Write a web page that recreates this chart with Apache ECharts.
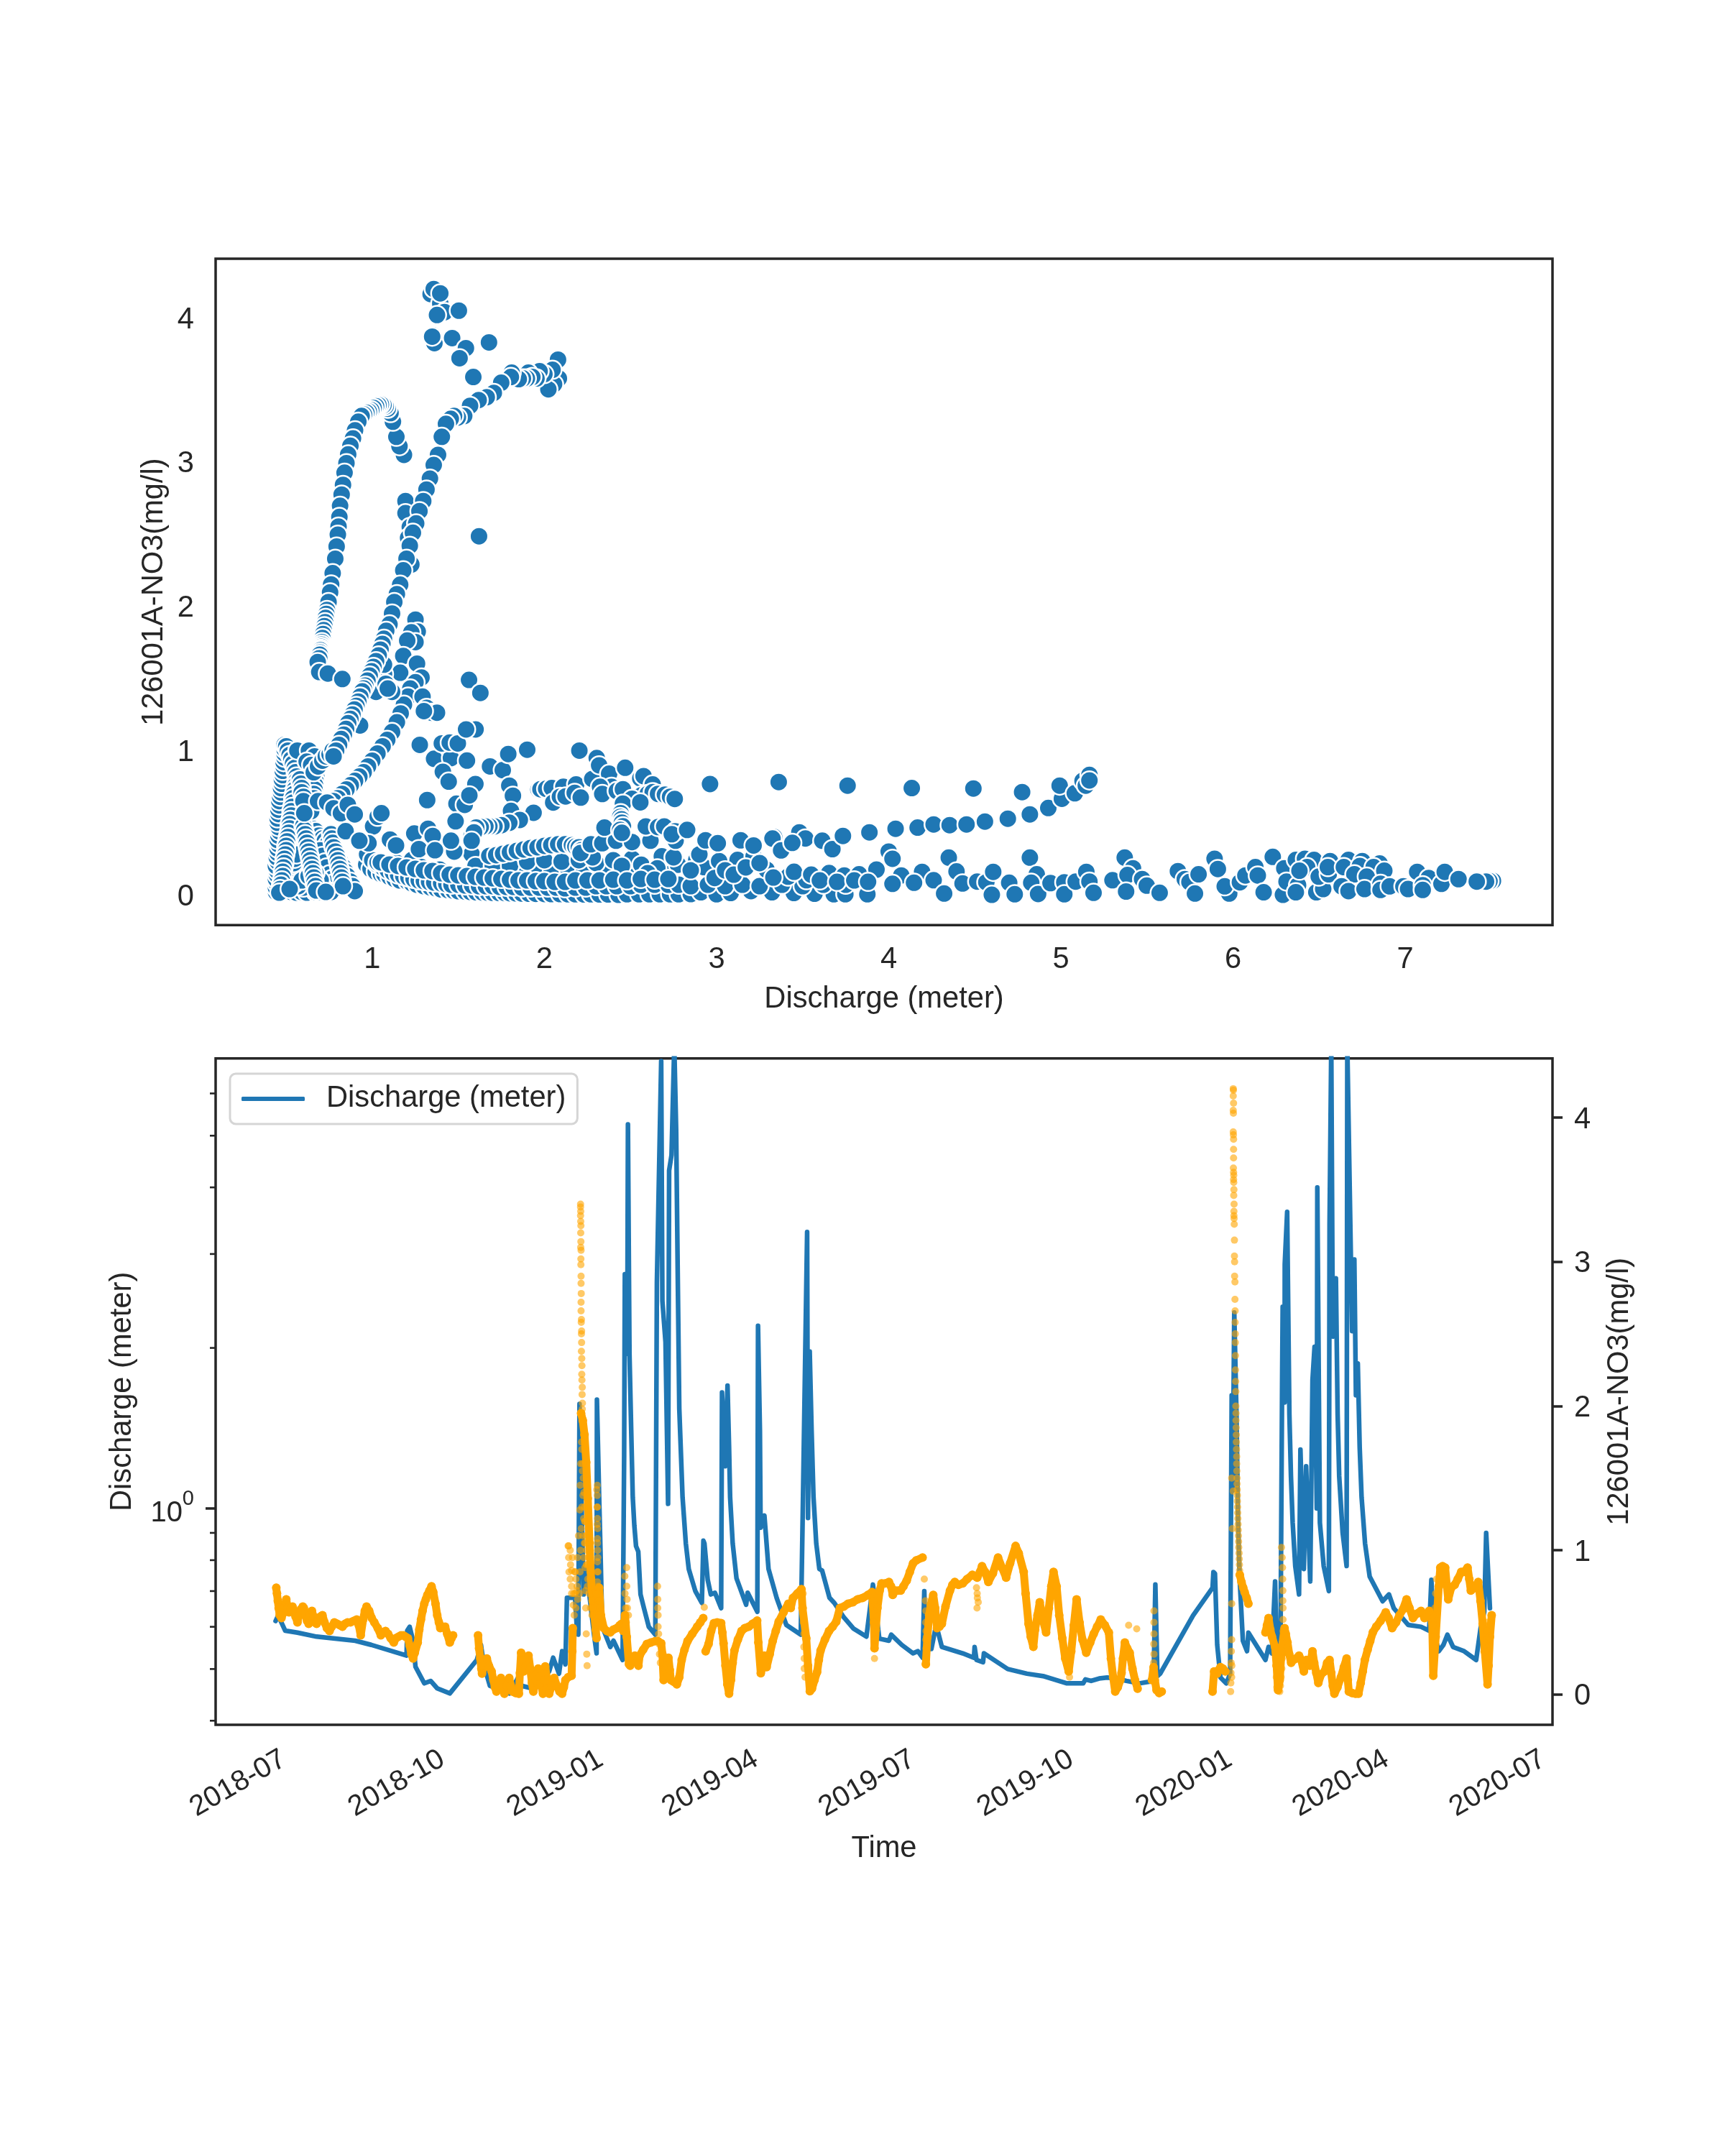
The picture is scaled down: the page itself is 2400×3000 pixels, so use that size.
<!DOCTYPE html>
<html><head><meta charset="utf-8">
<script src="https://cdn.jsdelivr.net/npm/echarts@6/dist/echarts.min.js"></script>
<style>html,body{margin:0;padding:0;background:#fff}#c{width:2400px;height:3000px}</style></head>
<body><div id="c"></div>
<script>
// ---------- top panel: scatter points (x = discharge, y = NO3) ----------
const topCluster=[[1.364,4.2],[1.339,4.165],[1.395,4.1],[1.42,4.04],[1.503,4.05],[1.357,4.2],[1.395,4.17],[1.376,4.02],[1.361,3.825],[1.352,3.88],[1.348,3.87],[1.464,3.86],[1.544,3.79],[1.507,3.72],[1.678,3.83],[1.587,3.59],[1.62,2.486]];
const upperChain=[[1.184,3.05],[1.158,3.11],[1.14,3.175],[1.12,3.28],[1.106,3.34],[1.09,3.37],[1.078,3.387],[1.065,3.395],[1.05,3.4],[1.036,3.395],[1.022,3.387],[1.008,3.375],[.994,3.36],[.98,3.35],[.966,3.342],[.952,3.33],[.938,3.32],[.919,3.28],[.9,3.22],[.888,3.164],[.873,3.113],[.86,3.053],[.85,2.993],[.839,2.926],[.83,2.842],[.822,2.775],[.813,2.697],[.809,2.62],[.804,2.553],[.8,2.497],[.793,2.415],[.785,2.33],[.77,2.23],[.761,2.152],[.755,2.097],[.746,2.03],[.737,1.975],[.733,1.948],[.729,1.92],[.726,1.89],[.722,1.863],[.718,1.835],[.714,1.808],[.711,1.78],[.707,1.752],[.705,1.735],[.703,1.72],[.701,1.706],[.699,1.696],[.697,1.68],[.695,1.665],[.692,1.64],[.683,1.614],[.692,1.545],[.742,1.534],[.826,1.496]];
const middleChain=[[1.193,2.73],[1.193,2.646],[1.218,2.55],[1.208,2.475],[1.227,2.29],[2.079,3.71],[2.084,3.58],[2.056,3.54],[2.023,3.505],[2.047,3.64],[2.0,3.61],[1.972,3.63],[1.954,3.58],[1.907,3.62],[1.93,3.59],[1.898,3.58],[1.875,3.58],[1.851,3.575],[1.81,3.62],[1.805,3.59],[1.749,3.55],[1.706,3.48],[1.665,3.45],[1.618,3.43],[1.568,3.39],[1.534,3.32],[1.497,3.31],[1.475,3.32],[1.456,3.3],[1.428,3.265],[1.404,3.175],[1.382,3.05],[1.357,2.98],[1.335,2.886],[1.315,2.81],[1.296,2.73],[1.274,2.66],[1.255,2.575],[1.236,2.51],[1.218,2.42],[1.199,2.33],[1.18,2.25],[1.162,2.15],[1.143,2.085],[1.128,2.03],[1.115,1.95],[1.1,1.875],[1.081,1.83],[1.068,1.775],[1.059,1.74],[1.048,1.7],[1.037,1.66],[1.022,1.62],[1.007,1.58],[.996,1.55],[.985,1.52],[.972,1.485],[.96,1.45],[.951,1.43],[.942,1.41],[.93,1.375],[.919,1.34],[.908,1.31],[.897,1.285],[.885,1.25],[.873,1.22],[.86,1.19],[.848,1.15],[.835,1.11],[.82,1.08],[.807,1.04],[.79,1.0],[.775,.96]];
const lowerBranch=[[1.251,1.908],[1.264,1.825],[1.227,1.82],[1.251,1.752],[1.203,1.763],[1.18,1.656],[1.26,1.603],[1.162,1.54],[1.068,1.53],[1.286,1.507],[1.251,1.474],[1.221,1.43],[1.208,1.374],[1.184,1.318],[1.165,1.258],[1.143,1.196],[1.115,1.129],[1.087,1.074],[1.06,1.03],[1.03,.98],[1.0,.93],[.975,.89],[.95,.85],[.925,.82],[.9,.79],[.875,.76],[.85,.73],[.825,.7],[.8,.67],[.775,.65],[1.022,1.407],[1.078,1.463],[1.115,1.407],[1.09,1.43],[1.068,1.596],[1.292,1.374],[1.316,1.296],[1.344,1.263],[1.376,1.263],[1.3,1.274],[1.562,1.49],[1.628,1.4],[1.544,1.14],[1.596,1.147],[.929,1.174],[1.274,1.03],[1.404,1.05],[1.45,1.055],[1.497,1.05],[1.6,1.147],[1.545,1.147],[1.276,1.04]];
const midScatter=[[1.404,1.05],[1.497,1.044],[1.359,.943],[1.457,.948],[1.55,.931],[1.41,.853],[1.444,.785],[1.599,.768],[1.684,.89],[1.758,.865],[1.79,.976],[1.9,1.006],[2.203,1.0],[1.796,.757],[1.817,.687],[1.319,.657],[1.489,.632],[1.537,.624],[1.564,.69],[1.484,.51],[1.806,.582],[1.937,.569],[1.857,.519],[1.796,.5],[1.75,.483],[1.71,.474],[1.68,.474],[1.657,.474],[1.63,.47],[1.604,.466],[1.59,.44],[1.577,.41],[1.965,.73],[1.977,.732],[2.01,.735],[2.043,.74],[2.11,.749],[2.184,.765],[2.051,.64],[2.09,.68],[2.123,.682],[2.176,.707],[2.211,.674],[2.278,.803],[2.304,.948],[2.318,.898],[2.376,.84],[2.39,.749],[2.469,.881],[2.323,.749],[2.336,.699],[2.42,.72],[2.456,.732],[2.557,.807],[2.576,.823],[2.629,.765],[2.563,.69],[2.6,.7],[2.629,.712],[2.66,.7],[2.7,.694],[2.73,.68],[2.757,.665],[2.509,.666],[2.456,.632],[2.557,.641],[2.443,.566],[2.44,.54],[2.448,.524],[2.45,.5],[2.456,.475],[2.44,.45],[2.45,.43],[2.962,.768],[3.361,.782],[3.761,.757],[4.134,.74],[4.492,.737],[4.775,.712],[3.888,.433],[4.04,.458],[4.168,.466],[4.261,.488],[4.354,.483],[4.452,.488],[4.559,.508],[4.692,.528],[4.82,.558],[4.927,.602],[5.006,.666],[4.993,.757],[5.081,.704],[5.126,.79],[5.145,.757],[5.166,.832],[5.166,.793]];
const leftColumnA=[[.44,.02],[.44,.05],[.445,.08],[.44,.11],[.445,.14],[.445,.17],[.44,.2],[.45,.23],[.445,.26],[.45,.29],[.45,.32],[.455,.35],[.45,.38],[.455,.41],[.46,.44],[.455,.47],[.45,.5],[.45,.53],[.455,.56],[.455,.59],[.46,.62],[.46,.65],[.465,.68],[.47,.71],[.47,.74],[.475,.77],[.475,.8],[.48,.83],[.48,.86],[.485,.89],[.485,.92],[.49,.95],[.49,.98],[.49,1.01],[.49,1.04]];
const leftColumnB=[[.5,1.03],[.51,1.0],[.52,.97],[.53,.94],[.54,.91],[.55,.88],[.555,.85],[.56,.82],[.56,.79],[.555,.76],[.55,.73],[.545,.7],[.54,.67],[.54,.64],[.535,.61],[.53,.58],[.53,.55],[.525,.52],[.52,.49],[.52,.46],[.515,.43],[.51,.4],[.505,.37],[.5,.34],[.5,.31],[.495,.28],[.49,.25],[.49,.22],[.485,.19],[.48,.16],[.48,.13],[.475,.1],[.47,.07],[.465,.04],[.46,.015]];
const leftClusterDots=[[.565,1.0],[.632,1.0],[.665,.96],[.619,.923],[.645,.9],[.66,.85],[.685,.89],[.71,.93],[.73,.96],[.752,.973],[.77,1.0],[.685,.649],[.738,.64],[.775,.6],[.818,.566],[.858,.624],[.898,.558],[1.005,.474],[1.031,.541],[1.053,.566],[.978,.358],[.845,.441],[.925,.375],[1.103,.383],[1.138,.342],[1.244,.425],[1.324,.458],[1.351,.408],[1.271,.317],[1.364,.309],[1.476,.3],[1.457,.375],[1.591,.433],[1.577,.375],[.605,.566],[.52,.04],[.73,.02]];
const decayLimbs=[[.57,.6],[.585,.57],[.6,.54],[.619,.508],[.635,.48],[.652,.46],[.672,.441],[.69,.41],[.71,.39],[.725,.375],[.74,.35],[.765,.325],[.78,.295],[.805,.258],[.815,.23],[.832,.192],[.845,.16],[.855,.13],[.872,.092],[.885,.06],[.898,.026],[.56,.45],[.575,.42],[.59,.39],[.605,.36],[.62,.335],[.64,.31],[.66,.31],[.698,.308],[.71,.27],[.725,.225],[.735,.19],[.752,.142],[.765,.11],[.775,.08],[.56,.32],[.57,.28],[.58,.24],[.59,.2],[.6,.165],[.61,.13],[.62,.1],[.63,.07],[.64,.04],[.65,.02],[.5,.02],[.51,.045],[.52,.07],[.525,.1],[.53,.13],[.535,.16],[.54,.19],[.545,.22],[.55,.25],[.56,.28],[.48,.02],[.53,.02],[.56,.015],[.59,.02],[.62,.015],[.67,.02],[.7,.02],[.72,.03],[.74,.025],[.76,.02],[.68,.05],[.71,.06],[.6,.05],[.57,.06],[.55,.08],[.59,.1],[.66,.09],[.7,.1],[.63,.13],[.67,.15],[.58,.55],[.62,.58]];
const leftRipples=[[.6,.48],[.605,.45],[.61,.42],[.615,.39],[.62,.36],[.625,.33],[.63,.3],[.635,.27],[.64,.24],[.645,.21],[.65,.18],[.655,.15],[.66,.12],[.665,.09],[.67,.06],[.675,.03],[.76,.42],[.765,.39],[.77,.36],[.775,.33],[.785,.3],[.795,.27],[.8,.24],[.805,.21],[.81,.18],[.815,.15],[.82,.12],[.825,.09],[.83,.06],[.68,.85],[.675,.82],[.67,.79],[.668,.76],[.665,.73],[.66,.7],[.66,.67],[.655,.64],[.65,.61],[.645,.58],[.58,.8],[.585,.77],[.59,.74],[.59,.71],[.6,.68],[.6,.65]];
const rowBottom=[[.965,.209],[.99,.18],[1.02,.16],[1.05,.145],[1.071,.142],[1.1,.125],[1.13,.11],[1.16,.1],[1.204,.092],[1.23,.08],[1.26,.07],[1.3,.06],[1.338,.051],[1.37,.045],[1.4,.038],[1.44,.033],[1.471,.029],[1.5,.025],[1.54,.022],[1.57,.02],[1.604,.018],[1.64,.016],[1.67,.015],[1.7,.014],[1.737,.013],[1.77,.012],[1.8,.011],[1.835,.01],[1.87,.009],[1.91,.008],[1.95,.007],[2.0,.006],[2.04,.005],[2.09,.005],[2.137,.004],[2.18,.004],[2.23,.003],[2.27,.004],[2.32,.003],[2.37,.003],[2.43,0],[2.48,.004],[2.55,.004],[2.61,.004],[2.67,.004],[2.73,.004],[2.78,.004],[2.85,.005],[2.909,.018],[3.0,.004],[3.082,.013],[3.2,.026],[3.322,.018],[3.449,.013],[3.569,.008],[3.681,.004],[3.748,.004],[3.876,.004]];
const rowDecayA=[[.97,.28],[1.0,.24],[1.03,.21],[1.06,.19],[1.09,.17],[1.12,.155],[1.15,.14],[1.18,.13],[1.21,.12],[1.24,.11],[1.27,.1],[1.3,.095],[1.33,.09],[1.36,.085],[1.4,.08],[1.43,.075],[1.46,.07],[1.5,.07],[1.54,.065],[1.58,.065],[1.62,.06],[1.66,.06],[1.7,.06],[1.74,.055],[1.78,.055],[1.82,.055],[1.87,.05],[1.92,.05],[1.97,.05],[2.02,.05],[2.07,.05],[2.12,.045],[2.18,.05],[2.24,.05],[2.3,.06],[2.36,.06],[2.42,.06],[2.5,.06],[2.56,.07],[2.64,.07],[2.72,.07],[2.78,.07],[2.85,.06],[2.95,.07],[3.05,.06],[3.15,.07],[3.25,.06],[3.38,.07],[3.5,.06],[3.62,.07],[3.75,.07]];
const rowDecayB=[[1.05,.225],[1.1,.21],[1.15,.2],[1.2,.19],[1.25,.18],[1.3,.17],[1.35,.165],[1.4,.15],[1.45,.14],[1.5,.135],[1.55,.13],[1.6,.125],[1.65,.12],[1.7,.115],[1.75,.11],[1.8,.105],[1.85,.1],[1.9,.1],[1.95,.095],[2.0,.095],[2.06,.09],[2.12,.09],[2.18,.1],[2.25,.1],[2.32,.1],[2.4,.105],[2.48,.1],[2.56,.11],[2.64,.105],[2.72,.11]];
const rowUpper=[[1.68,.27],[1.72,.275],[1.76,.285],[1.8,.295],[1.84,.305],[1.88,.315],[1.92,.325],[1.96,.33],[2.0,.34],[2.04,.345],[2.08,.35],[2.12,.35],[2.16,.345],[2.18,.335],[2.2,.33],[2.215,.31],[2.21,.29],[2.27,.35],[2.336,.358],[2.416,.375],[2.509,.366],[2.616,.375],[2.762,.375],[2.349,.466],[2.589,.474],[2.66,.47],[2.696,.474],[2.76,.44],[2.74,.42],[2.829,.45],[2.936,.378],[3.007,.358],[3.14,.378],[3.215,.342],[3.335,.4],[3.325,.39],[3.375,.308],[3.481,.433],[3.516,.391],[3.44,.36],[3.614,.375],[3.673,.317],[3.734,.408]];
const rowMiddle=[[1.031,.225],[1.138,.225],[1.231,.242],[1.284,.192],[1.391,.175],[1.577,.283],[1.67,.234],[1.737,.175],[1.844,.167],[1.958,.192],[2.043,.159],[2.137,.184],[2.23,.159],[2.363,.159],[2.496,.159],[2.509,.25],[2.563,.209],[2.682,.267],[2.722,.142],[2.656,.184],[2.776,.209],[2.882,.242],[2.927,.192],[3.015,.234],[2.989,.117],[3.122,.242],[3.215,.267],[3.29,.175],[3.415,.126],[3.522,.101],[3.654,.151],[3.742,.134],[3.828,.142],[3.929,.175],[4.0,.3],[4.022,.25],[4.073,.134],[4.022,.076],[4.147,.084],[2.3,.22],[2.4,.24],[2.45,.2],[2.6,.15],[2.75,.26],[2.85,.17],[2.9,.28],[3.05,.17],[3.1,.14],[3.17,.19],[3.25,.22],[3.33,.12],[3.45,.16],[3.55,.14],[3.6,.1],[3.7,.09],[3.8,.1],[3.88,.09],[1.6,.2],[1.7,.2],[1.8,.2],[1.9,.23],[2.0,.24],[2.1,.23],[2.2,.24],[2.28,.26]];
const rightLowBand=[[3.994,.3],[3.928,.175],[4.074,.134],[3.88,.004],[4.154,.081],[4.194,.159],[4.261,.101],[4.349,.258],[4.394,.162],[4.429,.079],[4.322,.009],[4.514,.092],[4.567,.087],[4.607,.159],[4.599,0],[4.7,.084],[4.732,.004],[4.82,.258],[4.86,.142],[4.828,.084],[4.868,.006],[4.94,.081],[5.02,.087],[5.02,.004],[5.086,.092],[5.148,.159],[5.166,.092],[5.19,.014],[5.3,.101],[5.371,.258],[5.419,.184],[5.387,.137],[5.379,.023],[5.472,.109],[5.499,.064],[5.574,.014],[5.68,.164],[5.72,.109],[5.747,.089],[5.8,.142],[5.779,.009],[5.893,.25],[5.912,.179],[5.978,.009],[5.952,.059],[6.04,.087],[6.072,.134],[6.13,.192],[6.144,.134],[6.178,.018],[6.231,.263],[6.29,0],[6.298,.184],[6.365,.242],[6.418,.25],[6.471,.242],[6.564,.234],[6.671,.242],[6.751,.234],[6.852,.217],[6.311,.092],[6.378,.067],[6.365,.018],[6.431,.192],[6.386,.167],[6.484,.018],[6.524,.04],[6.498,.126],[6.556,.142],[6.551,.192],[6.644,.192],[6.737,.2],[6.817,.192],[6.705,.142],[6.777,.126],[6.879,.167],[6.631,.059],[6.671,.026],[6.764,.04],[6.857,.076],[6.857,.034],[6.91,.059],[6.99,.059],[7.017,.04],[7.07,.159],[7.137,.117],[7.102,.067],[7.102,.034],[7.211,.076],[7.23,.159],[7.31,.109],[7.51,.097],[7.49,.095],[7.47,.092],[7.416,.092]];

// ---------- bottom panel: blue line, [days since 2018-07-01, discharge] ----------
const timeOrigin='2018-07-01T00:00:00Z';
const dischargeA=[[-4.8,.615],[-3.3,.63],[.8,.59],[7.9,.585],[19,.575],[41.4,.565],[50.7,.555],[71.2,.53],[71.6,.59],[73,.6],[75,.565],[76.4,.505],[81.5,.47],[85.2,.475],[89,.46],[96.3,.45],[112,.52],[114.4,.555],[116,.51],[119.6,.465],[131,.45],[136.4,.485],[138,.465],[144,.46],[149.4,.478],[154,.495],[156.3,.525],[159.7,.49],[161.5,.54],[163.4,.51],[164.3,.68],[169,.68],[170,.6],[170.9,.58],[171.6,1.57],[172.7,1.05],[174,.69],[175.5,.77],[178,.66],[180,.58],[181.5,.535],[181.7,1.6],[182.3,1.32],[183,1.05],[183.9,.8],[184.8,.6],[189.5,.55],[191.3,.565],[196.6,.52],[197.5,1.26],[197.9,2.75],[199.3,1.95],[199.7,5.25],[200.6,1.95],[201.6,1.4],[202.5,1.05],[203.4,.93],[204.4,.85],[205.7,.83],[207,.69],[209,.65],[211.8,.6],[215.6,.58],[216.5,2.65],[219,6.9],[219.7,2.45],[221.5,2.05],[223,1.02],[223.6,4.3],[225,4.6],[226.6,7.4],[227.7,5.1],[228.6,2.75],[229.5,1.54],[231.4,1.05],[233.3,.86],[235,.77],[238.8,.7],[242.6,.665]];
const dischargeB=[[243.5,.87],[244.1,.86],[246,.735],[247.8,.69],[250.2,.695],[253.8,.65],[254.3,1.65],[256.2,1.2],[257.5,1.7],[258.4,1.3],[259,1.05],[260.5,.86],[262.7,.74],[268.3,.66],[269.2,.695],[274.8,.64],[275.2,2.2],[276.3,1.4],[276.7,.92],[278.9,.97],[281.3,.77],[286,.68],[291.6,.605],[300,.58],[301.3,1.05],[303.7,3.3],[304.2,.96],[305.2,1.97],[306.3,1.4],[307.4,1.05],[309,.86],[310.8,.77],[312.4,.765],[316.7,.68],[319.5,.665],[325,.625],[330.7,.595],[338.1,.575],[341.9,.72],[345.6,.57],[351.2,.565],[352.5,.58],[358.6,.555],[365.2,.535],[368,.54],[370.7,.525],[371.7,.7],[372.6,.545],[375.8,.545],[378.6,.605],[381.9,.55],[394,.535],[400.5,.525],[400.9,.55],[402,.52],[405.8,.515],[406.3,.535],[420.1,.5],[431.3,.49],[440.6,.485],[454.5,.47],[463.9,.47],[465.2,.478],[468.5,.475],[473.2,.48],[477.8,.482],[483.4,.48],[489,.475],[496.5,.47],[504.8,.475],[505.8,.72],[507,.485],[508.6,.49]];
const dischargeC=[[527.7,.63],[539,.71],[539.5,.76],[540.4,.755],[541.7,.555],[543.6,.482],[547,.47],[549.2,.49],[550.1,1.63],[550.7,1.08],[551.6,2.33],[552.9,1.5],[553.8,.95],[554.8,.73],[556.6,.565],[559,.54],[559.8,.585],[569.7,.52],[571.5,.55],[573.4,.535],[575.3,.73],[576.2,.535],[578.4,.53],[579.4,1.78],[579.7,2.39],[580.8,1.58],[580.9,2.87],[582.3,3.6],[583.6,1.5],[584.5,1.15],[585.5,.94],[587,.78],[589.2,.69],[590,1.29],[592,.77],[593.3,1.2],[595.7,.73],[597,1.74],[598.2,2.01],[599.5,1.0],[599.8,4],[601.3,.94],[603.5,.78],[606.5,.7],[606.9,3.4],[607.9,7.4],[608.8,2.1],[610.6,2.7],[611.6,1.5],[612.5,1.15],[614.5,.9],[616.8,.78],[617.2,7.4],[620,2.15],[621.3,2.93],[622.2,1.63],[623.3,1.87],[624.4,1.3],[625.5,1.05],[627.5,.86],[630.2,.745],[637.7,.67],[641.4,.69],[644.2,.65],[647.9,.63],[652.5,.605],[660,.6],[664.7,.59],[666,.735],[667.5,.585],[670.3,.54],[673,.555],[675.3,.58],[678.6,.55],[685,.54],[692,.52],[694.5,.595],[696.7,.64],[697.8,.9],[700,.65]];

// ---------- bottom panel: orange NO3 trace, [days since 2018-07-01, mg/l] ----------
const nitrateA=[[-4.4,.74],[-4,.7],[-3.5,.65],[-3,.6],[-2.4,.55],[-1.4,.53],[-.6,.56],[.4,.6],[1.4,.66],[2.2,.6],[3,.57],[4,.6],[5,.61],[5.8,.58],[6.8,.54],[7.9,.5],[8.8,.55],[9.8,.59],[11,.61],[11.6,.6],[12.6,.55],[13.5,.51],[14.4,.49],[15.2,.55],[16.3,.58],[17.2,.54],[18,.5],[19,.49],[20,.52],[21.2,.54],[22.4,.55],[23.6,.5],[25,.46],[26.5,.44],[27.8,.47],[29.3,.5],[31,.49],[32.5,.48],[34,.47],[35.5,.49],[37,.5],[38.6,.5],[40.5,.51],[42.3,.52],[43.5,.48],[44.6,.41],[46,.52],[47,.58],[48,.61],[49.5,.58],[51,.53],[52.5,.5],[54.5,.46],[56.3,.41],[57.6,.43],[59,.44],[60.5,.42],[62,.39],[63.8,.36],[65,.39],[66.5,.4],[68,.41],[69.3,.41],[70.6,.4],[72,.39],[73,.34],[74,.28],[75,.25],[76,.29],[77.7,.36],[78.6,.45],[79.6,.52],[80.5,.58],[81.5,.63],[82.4,.66],[83.3,.69],[84.5,.72],[85.7,.75],[86.7,.71],[88,.63],[89,.55],[90,.5],[90.8,.46],[92.2,.47],[93.6,.47],[94.8,.42],[96.3,.36],[97.3,.39],[98.2,.41]];
const nitrateB=[[112.7,.41],[113.3,.32],[114,.25],[114.6,.18],[115,.145],[116,.2],[117.8,.25],[119,.2],[120.6,.16],[121.6,.1],[122.5,.05],[123.4,.02],[124.6,.08],[126,.115],[127,.05],[128,.005],[129.4,.06],[130.8,.115],[131.8,.06],[132.7,.02],[134.5,.01],[136.4,.005],[137,.15],[137.7,.29],[138.4,.22],[139.2,.16],[140.5,.2],[142,.27],[143,.18],[144,.08],[144.8,.02],[146,.1],[147.6,.18],[149,.08],[150.4,.005],[151,.1],[151.7,.195],[152.8,.1],[154,.005],[155.4,.06],[156.9,.115],[158.5,.06],[160,.02],[161.5,.005],[162.5,.05],[163.4,.1],[165,.12],[167,.13],[167.4,.3],[167.7,.46]];
const nitrateC=[[172.5,1.95],[173.5,1.9],[174.5,1.8],[175.5,1.61],[176.4,1.36],[177.4,1.05],[178.3,.8],[179.3,.65],[180.2,.55],[181,.45],[181.5,.39]];
const nitrateD=[[183,.74],[184,.55],[185.7,.46],[187.5,.44],[189.4,.43],[191.3,.45],[193.2,.46],[195,.48],[196,.49],[197,.44],[198,.55],[199,.4],[200.3,.21]];
const nitrateE=[[201,.2],[202.5,.25],[203.7,.27],[205.8,.2],[206.5,.27],[208.5,.31],[210.7,.35],[213,.36],[215.6,.37],[217,.37],[219,.355],[219.7,.28],[220.4,.1],[221.8,.17],[223.2,.255],[224,.17],[224.6,.1],[226,.09],[228.1,.07],[229.5,.12],[230.9,.24],[232.5,.31],[234.3,.37],[237,.42],[239.9,.47],[241.7,.5],[243.4,.53]];
const nitrateF=[[244.8,.3],[246.5,.35],[248,.44],[249.6,.495],[251.5,.5],[253.8,.495],[254.5,.43],[255.2,.355],[256.3,.2],[257.4,.07],[258.4,.006],[259.5,.1],[260.5,.22],[261.5,.305],[263.5,.38],[265.6,.44],[267.5,.46],[269.8,.47],[272,.49],[274.7,.513],[275.4,.36],[276.8,.147],[278,.2],[278.9,.27],[280.2,.19],[282,.28],[283.7,.37],[285.5,.44],[287.2,.505],[290,.57],[292.8,.63],[294.2,.6],[295.5,.67],[298,.7],[300.4,.73],[301,.6],[303.2,.39],[304.2,.2],[305.3,.023],[306.5,.04],[308,.1],[309.5,.156],[310.5,.24],[311.5,.305],[314,.38],[316.4,.44],[318.5,.47],[320.6,.505],[322.7,.6],[325,.61],[327.5,.63],[330.3,.64],[333,.66],[336,.67],[339,.69],[341.4,.71],[342.5,.5],[342.8,.32],[343.5,.45],[344.5,.6],[345.8,.72],[346.9,.77],[349,.77],[351.2,.78],[352.4,.75],[353.4,.69],[355,.72],[356.8,.72],[358,.72],[359.6,.75],[361.5,.79],[363.3,.85],[365.2,.91],[367,.93],[370.7,.95]];
const nitrateJ=[[372.6,.21],[373.5,.4],[374.5,.55],[375.5,.62],[376.9,.69],[378,.6],[379.1,.46],[380.5,.47],[381.9,.49],[384,.61],[386.6,.72],[388,.76],[389.4,.78],[391.5,.76],[394,.77],[396.5,.8],[399.6,.83],[402.4,.81],[404,.85],[405.2,.89],[407,.85],[408.9,.78],[411.5,.84],[414.5,.95],[416.8,.88],[419.2,.81],[421.5,.91],[424.7,1.03],[426.5,.98],[429.4,.85],[430.5,.7],[432.2,.49],[433.5,.4],[435,.33],[436,.45],[437.4,.55],[438.7,.64],[440.5,.52],[442.4,.43],[444,.6],[445.4,.75],[446.7,.85],[448.5,.75],[450,.55],[451.8,.39],[453.5,.25],[455.5,.16],[457,.3],[458.5,.48],[460.1,.66],[461.8,.5],[463.5,.38],[465.7,.29],[468,.36],[470,.42],[472,.47],[474.1,.52],[476.5,.48],[478.8,.43],[480,.25],[481.3,.12],[482.5,.02],[484,.05],[485.5,.1],[486.2,.15],[487,.25],[488.1,.36],[489.5,.32],[490.9,.29],[492.5,.18],[494,.1],[495.5,.04]];
const nitrateK=[[503.8,.1],[504.8,.19],[505.5,.1],[506.5,.03],[508,.01],[509.5,.02]];
const nitrateL=[[539,.02],[539.9,.16],[540.8,.15],[541.7,.145],[542.6,.17],[543.6,.19],[545,.18],[546.4,.16]];
const nitrateM=[[554.8,.83],[555.8,.78],[556.8,.74],[557.6,.71],[558.8,.67],[559.8,.63]];
const nitrateN=[[569.7,.43],[570.6,.48],[571.5,.53],[572.5,.45],[573.5,.4],[575.3,.33],[576.2,.2],[577,.03],[578,.1],[579,.3],[580.8,.46],[581.5,.42],[582.5,.36],[583.5,.28],[584.6,.22],[586,.24],[587.5,.25],[589.2,.27],[590.5,.24],[592,.16],[593.5,.24],[595.5,.2],[597,.3],[598,.22],[599.2,.15],[600.4,.08],[602,.14],[604,.16],[605.5,.22],[606.9,.24],[607.9,.15],[608.8,.06],[609.7,.005],[611.5,.05],[613.5,.12],[615.2,.19],[616.8,.25],[617.5,.1],[618.1,.02],[620,.01],[622,.005],[623.7,.005],[625,.08],[626.2,.16],[627.4,.24],[629,.31],[630.5,.37],[632,.43],[634,.47],[636.5,.51],[639.5,.57],[641.2,.53],[643.2,.46],[645.5,.5],[647.5,.55],[649.5,.59],[651.6,.66],[653.3,.6],[655.3,.53],[657.5,.56],[660,.58],[662,.53],[664.7,.58],[666.5,.5],[667.1,.13],[668.5,.4],[670.3,.75],[671.2,.88],[672.5,.89],[674,.88],[675,.75],[675.8,.66],[677.5,.74],[679.5,.76],[681.3,.8],[683.3,.85],[685,.85],[687,.88],[688,.8],[688.9,.72],[691,.74],[693.2,.78],[694.5,.65],[695.8,.49],[697,.3],[698.6,.07],[699.2,.2],[700,.4],[701,.55]];
// ---------- bottom panel: faint separate orange dots, same units ----------
const spikeJan2019=[[172.2,3.4],[172.2,3.38],[172.3,3.35],[172.2,3.32],[172.3,3.28],[172.4,3.25],[172.3,3.2],[172.4,3.14],[172.3,3.1],[172.5,3.08],[172.4,3.02],[172.4,2.98],[172.5,2.9],[172.5,2.85],[172.6,2.78],[172.5,2.72],[172.5,2.66],[172.7,2.6],[172.6,2.58],[172.8,2.52],[172.7,2.5],[172.8,2.44],[172.7,2.38],[172.9,2.33],[173,2.28],[172.9,2.22],[173,2.18],[173.2,2.13],[173.1,2.08],[173.3,2.02],[173.2,1.98]];
const spikeJan2020=[[551,4.2],[551.1,4.19],[551,4.15],[551.2,4.1],[551,4.05],[551.1,4.03],[551,3.9],[551.1,3.88],[551.2,3.85],[551.2,3.78],[551.2,3.72],[551.1,3.65],[551.2,3.62],[551.3,3.6],[551.2,3.57],[551.3,3.55],[551.4,3.5],[551.3,3.46],[551.5,3.4],[551.4,3.35],[551.4,3.32],[551.5,3.3],[551.6,3.26],[551.7,3.15],[551.7,3.04],[551.8,3],[551.8,2.9],[552,2.86],[552,2.74],[552.1,2.66],[552.1,2.58],[552.2,2.5],[552.2,2.44],[552.3,2.35],[552.3,2.25],[552.4,2.17],[552.5,2.1],[552.5,2],[552.6,1.95],[552.6,1.9],[552.7,1.85],[552.8,1.8],[552.8,1.75],[552.9,1.7],[553,1.65],[553,1.6],[553.1,1.55],[553.2,1.5],[553.2,1.46],[553.3,1.42],[553.4,1.38],[553.4,1.34],[553.5,1.3],[553.6,1.26],[553.7,1.22],[553.8,1.18],[553.9,1.14],[554,1.1],[554.1,1.06],[554.2,1.02],[554.4,.98],[554.5,.94],[554.6,.9],[554.7,.86]];
const cloudJan2019=[[170.5,.95],[171,1.1],[171.8,1.28],[172,1.45],[172.3,1.6],[172.8,1.75],[173.3,1.55],[173.6,1.38],[174,1.22],[174.4,1.05],[174.8,.88],[175,.72],[175.2,.6],[175.5,.42],[175.8,.28],[176,.2],[173,1.7],[173.4,1.6],[173.8,1.5],[174.2,1.4],[174.6,1.3],[175,1.2],[175.3,1.1],[175.7,1],[176.1,.9],[176.4,.8],[171.6,.7],[171.9,.85],[172.2,1],[172.6,1.15],[173,1.3],[173.5,1.1],[174,.95],[174.5,1.2],[175,1.05],[175.6,.9],[176.2,.75],[176.7,.95],[177.2,.7],[177.6,.85],[178,.6],[178.4,.75],[178.8,.55],[179.2,.6],[165,1.03],[165.3,.95],[165.3,1.03],[165.5,.85],[166.2,1.0],[166.2,.8],[167,.86],[167,.7],[168,.62],[168.5,.55],[169,.7],[169,.85],[169.5,.8],[170,.72],[170.5,.66],[166.4,.9],[167,.75],[167.5,.95],[168.2,.7],[168.9,.85],[169.5,.6],[170.2,.75],[181.9,1.45],[181.9,1.38],[182,1.3],[182,1.22],[182.1,1.15],[182,1.08],[182.1,1],[182,.92],[181.9,.85],[182,.78],[182.1,.7],[182,.62],[182.1,.55],[182.1,.48],[181.6,1.42],[181.8,1.3],[181.9,1.18],[182,1.05],[182.2,.95],[182.3,.85],[182.4,.75],[182.6,.65],[182.8,.58]];
const spurDots=[[197.9,.82],[198,.7],[198.4,.6],[198.8,.5],[198.8,.42],[199,.88],[199,.75],[199.2,.66],[199.4,.6],[200,.55],[216.9,.75],[217,.66],[217,.6],[217.2,.55],[217.2,.47],[217.5,.42],[217.8,.35],[218,.28],[218.5,.22],[244,.605],[301.4,.7],[301.5,.6],[301.5,.5],[301.8,.42],[301.8,.33],[302,.25],[302,.18],[302.5,.12],[342.5,.65],[342.6,.58],[342.5,.5],[342.7,.43],[342.8,.38],[342.7,.33],[342.8,.25],[372.4,.65],[372.6,.58],[372.5,.5],[372.7,.44],[372.6,.38],[372.7,.32],[372.6,.25],[371.7,.8],[505,.58],[505,.5],[505,.42],[504.9,.35],[505,.28],[504.8,.22],[549.5,.02],[549.6,.08],[549.7,.15],[549.8,.22],[549.9,.3],[550.1,.38],[550.1,.12],[550.2,.2],[550.5,1.15],[551,1.41],[550.1,1.5],[550.1,.63],[579,1.02],[579.4,.95],[579.6,.88],[579.7,.8],[579.8,.72],[579.8,.65],[579.9,.6],[579.9,.52],[579.9,.44],[579.5,.36],[579.4,.25],[579.2,.18],[578.8,.12],[578.4,.06],[578,.02],[575.8,.2],[576,.12],[576.3,.05],[667,.55],[667,.48],[667.1,.4],[667.2,.33],[667.2,.26],[667.3,.2],[667.3,.15],[668,.6],[668.5,.7],[669,.8],[698.2,.5],[698.2,.44],[698.3,.38],[698.4,.32],[698.4,.26],[698.5,.2],[698.6,.14],[698.8,.2],[699,.3],[699.4,.38],[699.8,.44],[403,.64],[402.4,.7],[402,.74],[402.3,.6],[402.5,.67],[490.3,.48],[495,.455],[456,.12]];

// ---------- axis ticks ----------
const dateTickLabels=['2018-07','2018-10','2019-01','2019-04','2019-07','2019-10','2020-01','2020-04','2020-07'];
const logMinorTicks=[.4,.5,.6,.7,.8,.9,2,3,4,5,6];
const topXTicks=[1,2,3,4,5,6,7];
const nitrateTicks=[0,1,2,3,4];
const timeMinDays=-39.6, timeMaxDays=736.3;
const T0=Date.parse(timeOrigin), DAY=864e5;
const toTime=d=>T0+d*DAY;
const timed=a=>a.map(p=>[toTime(p[0]),p[1]]);
const joinBlocks=(...b)=>b.reduce((acc,x,i)=>acc.concat(i?[['-','-']]:[],timed(x)),[]);
const INK='#262626', FONT='"Liberation Sans", Arial, sans-serif', FS=41.67;
const tick={color:INK,fontFamily:FONT,fontSize:FS};
const scatterAll=[].concat(rightLowBand,rowBottom,rowDecayA,rowMiddle,rowDecayB,rowUpper,midScatter,lowerBranch,decayLimbs,leftColumnA,leftColumnB,leftRipples,leftClusterDots,upperChain,middleChain,topCluster);
const blue=timed([].concat(dischargeA,dischargeB,dischargeC));
const orange=joinBlocks(nitrateA,nitrateB,nitrateC,nitrateD,nitrateE,nitrateF,nitrateJ,nitrateK,nitrateL,nitrateM,nitrateN);
const orangeDots=timed([].concat(spikeJan2019,spikeJan2020,cloudJan2019,spurDots));
const chart=echarts.init(document.getElementById('c'),null,{width:2400,height:3000,renderer:'canvas',devicePixelRatio:1});
const frame={show:true,borderColor:INK,borderWidth:3.5,backgroundColor:'#fff'};
const yLabel={formatter:v=>'{a|'+v+'}',rich:{a:{fontSize:FS,fontFamily:FONT,color:INK,padding:[6,0,0,0]}}};
chart.setOption({
 animation:false,backgroundColor:'#fff',
 legend:{show:true,left:320,top:1494,data:['Discharge (meter)'],orient:'horizontal',padding:[14,16,14,16],itemWidth:88,itemHeight:6,borderColor:'#d5d5d5',borderWidth:3,borderRadius:8,backgroundColor:'#fff',
   textStyle:{color:INK,fontFamily:FONT,fontSize:FS,padding:[0,0,0,25]},icon:'roundRect',selectedMode:false},
 grid:[Object.assign({left:300,top:360,width:1860,height:927.27},frame),Object.assign({left:300,top:1472.73,width:1860,height:927.27},frame)],
 xAxis:[
  {gridIndex:0,type:'value',min:.09,max:7.856,splitLine:{show:false},axisLine:{show:false},axisTick:{show:false},
   axisLabel:Object.assign({margin:27,customValues:topXTicks},tick),
   name:'Discharge (meter)',nameLocation:'middle',nameGap:82,nameTextStyle:tick},
  {gridIndex:1,type:'value',min:toTime(timeMinDays),max:toTime(timeMaxDays),splitLine:{show:false},axisLine:{show:false},axisTick:{show:false},
   axisLabel:Object.assign({margin:45,rotate:30,customValues:dateTickLabels.map(s=>Date.parse(s+'-01T00:00:00Z')),
     formatter:v=>new Date(v).toISOString().slice(0,7),hideOverlap:false},tick,{fontSize:40}),
   name:'Time',nameLocation:'middle',nameGap:152,nameTextStyle:tick}
 ],
 yAxis:[
  {gridIndex:0,type:'value',min:-.21,max:4.41,splitLine:{show:false},axisLine:{show:false},axisTick:{show:false},
   axisLabel:Object.assign({margin:30,customValues:nitrateTicks},tick,yLabel),
   name:'126001A-NO3(mg/l)',nameLocation:'middle',nameGap:62,nameRotate:90,nameTextStyle:tick},
  {gridIndex:1,type:'log',logBase:10,min:.393,max:6.98,splitLine:{show:false},axisLine:{show:false},axisTick:{show:false},
   axisLabel:{margin:30,color:INK,fontFamily:FONT,formatter:v=>Math.abs(v-1)<1e-6?'{b|10}{s|0}':'',
     rich:{b:{fontSize:40,lineHeight:54,fontFamily:FONT,color:INK,verticalAlign:'bottom'},s:{fontSize:29,lineHeight:54,fontFamily:FONT,color:INK,verticalAlign:'top'}}},
   name:'Discharge (meter)',nameLocation:'middle',nameGap:108,nameRotate:90,nameTextStyle:tick},
  {gridIndex:1,type:'value',position:'right',min:-.21,max:4.41,splitLine:{show:false},
   axisLine:{show:false},axisTick:{show:true,length:14,customValues:nitrateTicks,lineStyle:{color:INK,width:3.5}},
   axisLabel:Object.assign({margin:30,customValues:nitrateTicks},tick,yLabel),
   name:'126001A-NO3(mg/l)',nameLocation:'middle',nameGap:73,nameRotate:90,nameTextStyle:tick}
 ],
 series:[
  {type:'scatter',name:'NO3 vs discharge',xAxisIndex:0,yAxisIndex:0,data:scatterAll,symbol:'circle',symbolSize:25.5,progressive:0,large:false,
   itemStyle:{color:'#1f77b4',borderColor:'#fff',borderWidth:2.5,opacity:1}},
  {type:'line',name:'Discharge (meter)',xAxisIndex:1,yAxisIndex:1,data:blue,showSymbol:false,symbol:'none',clip:true,
   lineStyle:{color:'#1f77b4',width:6.5,cap:'round',join:'round'},itemStyle:{color:'#1f77b4'},z:3},
  {type:'line',name:'126001A-NO3 trace',xAxisIndex:1,yAxisIndex:2,data:orange,connectNulls:false,symbol:'circle',symbolSize:12,showSymbol:true,showAllSymbol:true,
   lineStyle:{color:'#ffa500',width:11,cap:'round',join:'round'},itemStyle:{color:'#ffa500',opacity:1},z:5},
  {type:'scatter',name:'126001A-NO3',xAxisIndex:1,yAxisIndex:2,data:orangeDots,symbol:'circle',symbolSize:10,progressive:0,
   itemStyle:{color:'#ffa500',opacity:.6},z:6},
  {type:'custom',name:'log ticks',xAxisIndex:1,yAxisIndex:1,silent:true,clip:false,z:7,
   data:logMinorTicks.map(v=>[toTime(timeMinDays),v,8]).concat([[toTime(timeMinDays),1,14]]),
   renderItem:(p,api)=>{const c=api.coord([api.value(0),api.value(1)]);return {type:'line',shape:{x1:c[0]-api.value(2),y1:c[1],x2:c[0],y2:c[1]},style:{stroke:INK,lineWidth:api.value(2)>8?3.5:2.6}};}}
 ]
});
</script></body></html>
